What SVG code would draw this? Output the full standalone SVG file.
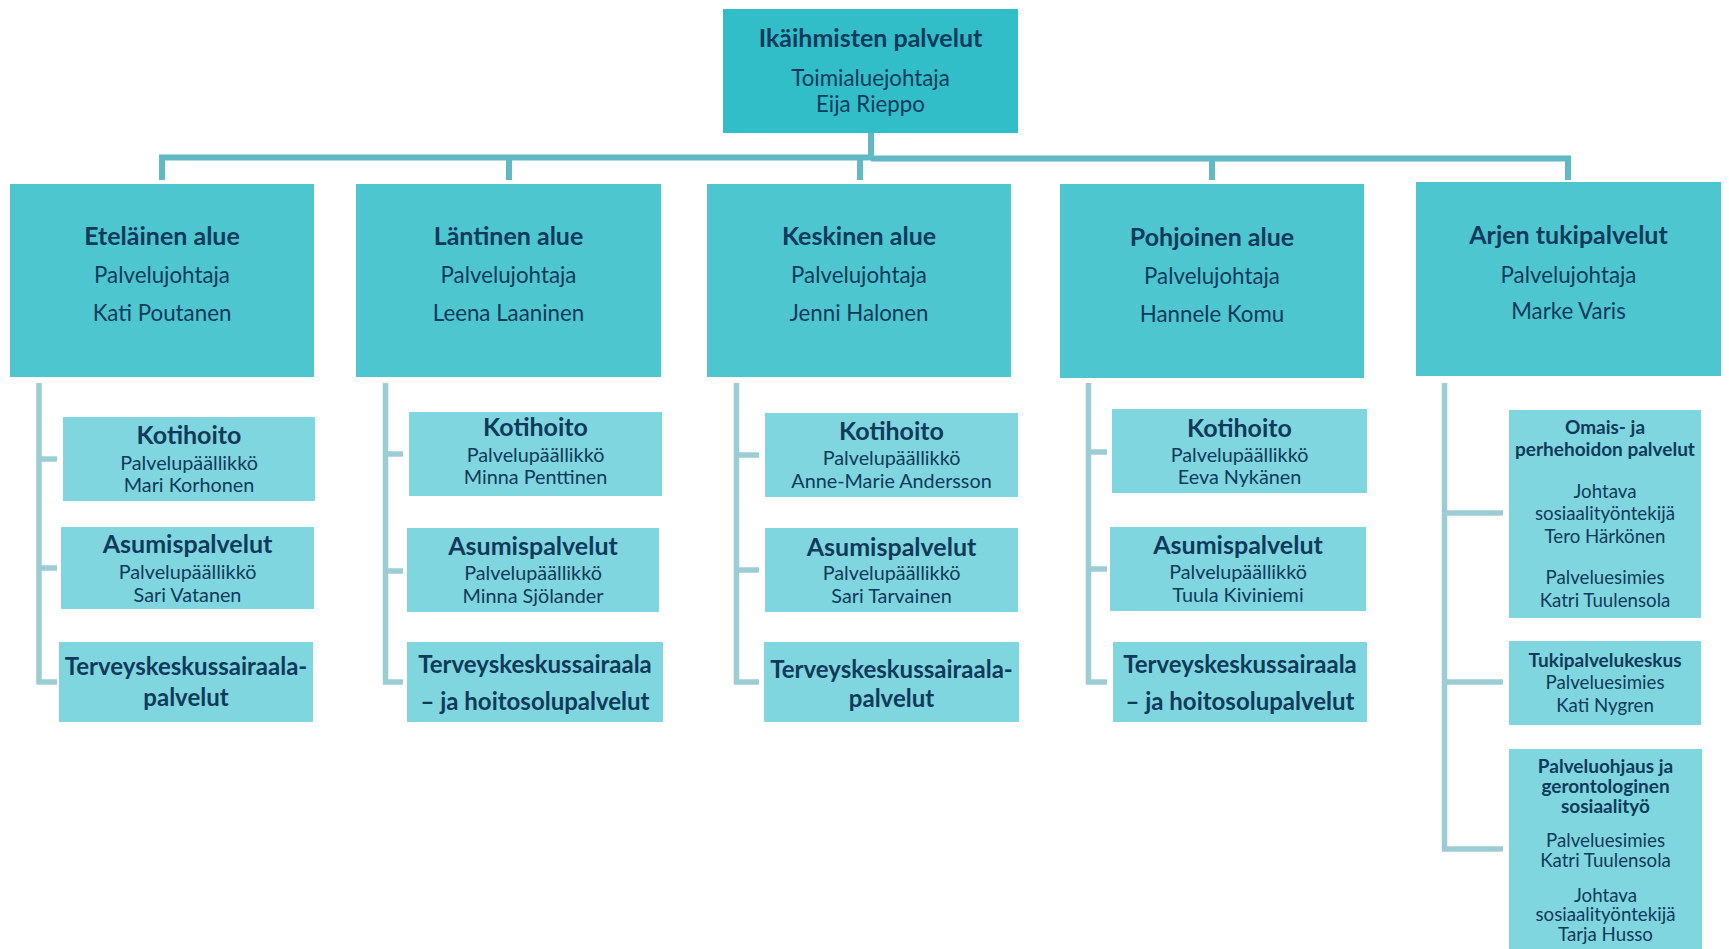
<svg xmlns="http://www.w3.org/2000/svg" width="1729" height="949" viewBox="0 0 1729 949">
<style>
.bg{fill:#ffffff}
.top{fill:#31bec9}
.l2{fill:#4ec6d0}
.sub{fill:#80d6de}
text{font-family:Lato,"Liberation Sans",sans-serif;fill:#0f3a5b;text-anchor:middle}
.b1{font-weight:bold;font-size:25px}
.r1{font-size:22.3px}
.b2{font-weight:bold;font-size:25px}
.b2t{font-weight:bold;font-size:24px}
.r2{font-size:19.8px}
.b3{font-weight:bold;font-size:19px}
.r3{font-size:18.7px}
.main{fill:none;stroke:#5fbac5;stroke-width:6}
.subc{fill:none;stroke:#9dcdd4;stroke-width:5.5}
</style>
<rect class="bg" x="0" y="0" width="1729" height="949"/>
<g id="connectors">
<path class="main" d="M871 133 V160"/>
<path class="main" d="M162 180 V157.5 H871"/>
<path class="main" d="M871 158.5 H1568 V180"/>
<path class="main" d="M509 158 V180 M860 158 V180 M1212 158 V180"/>
<path class="subc" d="M39 383 V682 H57 M39 459 H57 M39 568 H57"/>
<path class="subc" d="M385.5 383 V682 H403 M385.5 454 H403 M385.5 571 H403"/>
<path class="subc" d="M736.5 383 V682 H759 M736.5 455 H759 M736.5 570 H759"/>
<path class="subc" d="M1088.5 383 V682 H1107 M1088.5 452 H1107 M1088.5 569 H1107"/>
<path class="subc" d="M1444.5 383 V849 H1503 M1444.5 513 H1503 M1444.5 682 H1503"/>
</g>
<g id="n-top">
<rect class="top" x="723" y="9" width="295" height="124"/>
<text class="b1" x="870.5" y="47">Ikäihmisten palvelut</text>
<text class="r1" x="870.5" y="86">Toimialuejohtaja</text>
<text class="r1" x="870.5" y="112">Eija Rieppo</text>
</g>
<g id="n-etelainen">
<rect class="l2" x="10" y="184" width="304" height="193"/>
<text class="b1" x="162" y="245">Eteläinen alue</text>
<text class="r1" x="162" y="283">Palvelujohtaja</text>
<text class="r1" x="162" y="321">Kati Poutanen</text>
</g>
<g id="n-lantinen">
<rect class="l2" x="356" y="184" width="305" height="193"/>
<text class="b1" x="508.5" y="245">Läntinen alue</text>
<text class="r1" x="508.5" y="283">Palvelujohtaja</text>
<text class="r1" x="508.5" y="321">Leena Laaninen</text>
</g>
<g id="n-keskinen">
<rect class="l2" x="707" y="184" width="304" height="193"/>
<text class="b1" x="859" y="245">Keskinen alue</text>
<text class="r1" x="859" y="283">Palvelujohtaja</text>
<text class="r1" x="859" y="321">Jenni Halonen</text>
</g>
<g id="n-pohjoinen">
<rect class="l2" x="1060" y="184" width="304" height="194"/>
<text class="b1" x="1212" y="246">Pohjoinen alue</text>
<text class="r1" x="1212" y="284">Palvelujohtaja</text>
<text class="r1" x="1212" y="322">Hannele Komu</text>
</g>
<g id="n-arjen">
<rect class="l2" x="1416" y="182" width="305" height="194"/>
<text class="b1" x="1568.5" y="244">Arjen tukipalvelut</text>
<text class="r1" x="1568.5" y="283">Palvelujohtaja</text>
<text class="r1" x="1568.5" y="319">Marke Varis</text>
</g>
<g id="n-e-kotihoito">
<rect class="sub" x="63" y="417" width="252" height="84"/>
<text class="b2" x="189" y="444">Kotihoito</text>
<text class="r2" x="189" y="470">Palvelupäällikkö</text>
<text class="r2" x="189" y="492">Mari Korhonen</text>
</g>
<g id="n-e-asumis">
<rect class="sub" x="61" y="527" width="253" height="82"/>
<text class="b2" x="187.5" y="553">Asumispalvelut</text>
<text class="r2" x="187.5" y="579">Palvelupäällikkö</text>
<text class="r2" x="187.5" y="602">Sari Vatanen</text>
</g>
<g id="n-e-terveys">
<rect class="sub" x="59" y="642" width="254" height="80"/>
<text class="b2t" x="186" y="675">Terveyskeskussairaala-</text>
<text class="b2t" x="186" y="706">palvelut</text>
</g>
<g id="n-l-kotihoito">
<rect class="sub" x="409" y="412" width="253" height="84"/>
<text class="b2" x="535.5" y="436">Kotihoito</text>
<text class="r2" x="535.5" y="462">Palvelupäällikkö</text>
<text class="r2" x="535.5" y="484">Minna Penttinen</text>
</g>
<g id="n-l-asumis">
<rect class="sub" x="407" y="528" width="252" height="84"/>
<text class="b2" x="533" y="555">Asumispalvelut</text>
<text class="r2" x="533" y="580">Palvelupäällikkö</text>
<text class="r2" x="533" y="603">Minna Sjölander</text>
</g>
<g id="n-l-terveys">
<rect class="sub" x="407" y="642" width="256" height="80"/>
<text class="b2t" x="535" y="673">Terveyskeskussairaala</text>
<text class="b2t" x="535" y="710">– ja hoitosolupalvelut</text>
</g>
<g id="n-k-kotihoito">
<rect class="sub" x="765" y="413" width="253" height="84"/>
<text class="b2" x="891.5" y="440">Kotihoito</text>
<text class="r2" x="891.5" y="465">Palvelupäällikkö</text>
<text class="r2" x="891.5" y="488">Anne-Marie Andersson</text>
</g>
<g id="n-k-asumis">
<rect class="sub" x="765" y="528" width="253" height="84"/>
<text class="b2" x="891.5" y="556">Asumispalvelut</text>
<text class="r2" x="891.5" y="580">Palvelupäällikkö</text>
<text class="r2" x="891.5" y="603">Sari Tarvainen</text>
</g>
<g id="n-k-terveys">
<rect class="sub" x="764" y="642" width="255" height="80"/>
<text class="b2t" x="891.5" y="678">Terveyskeskussairaala-</text>
<text class="b2t" x="891.5" y="707">palvelut</text>
</g>
<g id="n-p-kotihoito">
<rect class="sub" x="1112" y="409" width="255" height="84"/>
<text class="b2" x="1239.5" y="437">Kotihoito</text>
<text class="r2" x="1239.5" y="462">Palvelupäällikkö</text>
<text class="r2" x="1239.5" y="484">Eeva Nykänen</text>
</g>
<g id="n-p-asumis">
<rect class="sub" x="1110" y="527" width="256" height="84"/>
<text class="b2" x="1238" y="554">Asumispalvelut</text>
<text class="r2" x="1238" y="579">Palvelupäällikkö</text>
<text class="r2" x="1238" y="602">Tuula Kiviniemi</text>
</g>
<g id="n-p-terveys">
<rect class="sub" x="1113" y="642" width="254" height="80"/>
<text class="b2t" x="1240" y="673">Terveyskeskussairaala</text>
<text class="b2t" x="1240" y="710">– ja hoitosolupalvelut</text>
</g>
<g id="n-a-omais">
<rect class="sub" x="1509" y="410" width="192" height="208"/>
<text class="b3" x="1605" y="434">Omais- ja</text>
<text class="b3" x="1605" y="456">perhehoidon palvelut</text>
<text class="r3" x="1605" y="498">Johtava</text>
<text class="r3" x="1605" y="520">sosiaalityöntekijä</text>
<text class="r3" x="1605" y="543">Tero Härkönen</text>
<text class="r3" x="1605" y="584">Palveluesimies</text>
<text class="r3" x="1605" y="607">Katri Tuulensola</text>
</g>
<g id="n-a-tuki">
<rect class="sub" x="1509" y="641" width="192" height="84"/>
<text class="b3" x="1605" y="667">Tukipalvelukeskus</text>
<text class="r3" x="1605" y="689">Palveluesimies</text>
<text class="r3" x="1605" y="712">Kati Nygren</text>
</g>
<g id="n-a-palveluohjaus">
<rect class="sub" x="1509" y="749" width="193" height="210"/>
<text class="b3" x="1605.5" y="773">Palveluohjaus ja</text>
<text class="b3" x="1605.5" y="793">gerontologinen</text>
<text class="b3" x="1605.5" y="813">sosiaalityö</text>
<text class="r3" x="1605.5" y="847">Palveluesimies</text>
<text class="r3" x="1605.5" y="867">Katri Tuulensola</text>
<text class="r3" x="1605.5" y="902">Johtava</text>
<text class="r3" x="1605.5" y="921">sosiaalityöntekijä</text>
<text class="r3" x="1605.5" y="941">Tarja Husso</text>
</g>
</svg>
